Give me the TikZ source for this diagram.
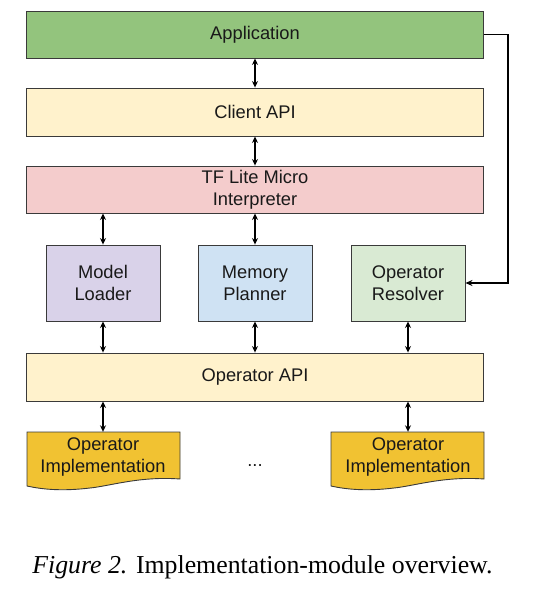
\documentclass[tikz,border=0pt]{standalone}
\usepackage{fontspec}
\setmainfont{Liberation Serif}
\newfontfamily\boxfont{Liberation Sans}
\usetikzlibrary{arrows.meta}
\definecolor{appgreen}{HTML}{93C47D}
\definecolor{lightyellow}{HTML}{FFF2CC}
\definecolor{lightred}{HTML}{F4CCCC}
\definecolor{lightpurple}{HTML}{D9D2E9}
\definecolor{lightblue}{HTML}{CFE2F3}
\definecolor{lightgreen}{HTML}{D9EAD3}
\definecolor{implyellow}{HTML}{F1C232}
\definecolor{edge}{HTML}{3A3A3A}
\tikzset{
  boxtext/.style={font=\boxfont\fontsize{18.3}{22}\selectfont, text=black!90},
  layer/.style={boxtext, draw=edge, line width=0.9pt, minimum width=457pt, inner sep=0pt, align=center},
  module/.style={boxtext, draw=edge, line width=0.9pt, minimum width=114pt, minimum height=76pt, inner sep=0pt, align=center},
  impltext/.style={boxtext, minimum width=153pt, minimum height=50pt, inner sep=0pt, align=center},
  dbl/.style={{Stealth[length=6.5pt,width=6pt]}-{Stealth[length=6.5pt,width=6pt]}, line width=1.3pt},
  feed/.style={-{Stealth[length=7pt,width=6pt]}, line width=1.6pt},
}
\begin{document}
\begin{tikzpicture}[x=1pt,y=-1pt]
\useasboundingbox (0,0) rectangle (538,592);
\node[layer, fill=appgreen, minimum height=47pt] (app) at (255,34.5) {Application};
\node[layer, fill=lightyellow, minimum height=48pt] (client) at (255,112) {Client API};
\node[layer, fill=lightred, minimum height=47pt] (interp) at (255,189.5) {TF Lite Micro\\Interpreter};
\node[module, fill=lightpurple] (loader) at (103,283) {Model\\Loader};
\node[module, fill=lightblue] (planner) at (255,283) {Memory\\Planner};
\node[module, fill=lightgreen] (resolver) at (408,283) {Operator\\Resolver};
\node[layer, fill=lightyellow, minimum height=48pt] (opapi) at (255,377) {Operator API};
% operator implementation documents
\fill[implyellow, draw=edge, line width=0.9pt] (27,432) -- (180,432) -- (180,479)
  .. controls (140,476) and (110,486) .. (90,488) .. controls (65,491) and (45,490) .. (27,486) -- cycle;
\fill[implyellow, draw=edge, line width=0.9pt] (331,432) -- (484,432) -- (484,479)
  .. controls (444,476) and (414,486) .. (394,488) .. controls (369,491) and (349,490) .. (331,486) -- cycle;
\node[impltext] (impl1) at (103,457) {Operator\\Implementation};
\node[impltext] (impl2) at (408,457) {Operator\\Implementation};
\node[boxtext] (dots) at (255,466) {...};
% connectors
\draw[dbl] (app.south) -- (client.north);
\draw[dbl] (client.south) -- (interp.north);
\draw[dbl] (interp.south -| loader.north) -- (loader.north);
\draw[dbl] (interp.south -| planner.north) -- (planner.north);
\draw[dbl] (loader.south) -- (opapi.north -| loader.south);
\draw[dbl] (planner.south) -- (opapi.north -| planner.south);
\draw[dbl] (resolver.south) -- (opapi.north -| resolver.south);
\draw[dbl] (opapi.south -| impl1.north) -- (impl1.north);
\draw[dbl] (opapi.south -| impl2.north) -- (impl2.north);
\coordinate (turn1) at (508,34.5);
\coordinate (turn2) at (508,283);
\draw[feed] (app.east) -- (turn1) -- (turn2) -- (resolver.east);
\node[font=\fontsize{25.8}{30}\selectfont] (caption) at (262.5,567) {\textit{Figure 2.} Implementation-module overview.};
\end{tikzpicture}
\end{document}
